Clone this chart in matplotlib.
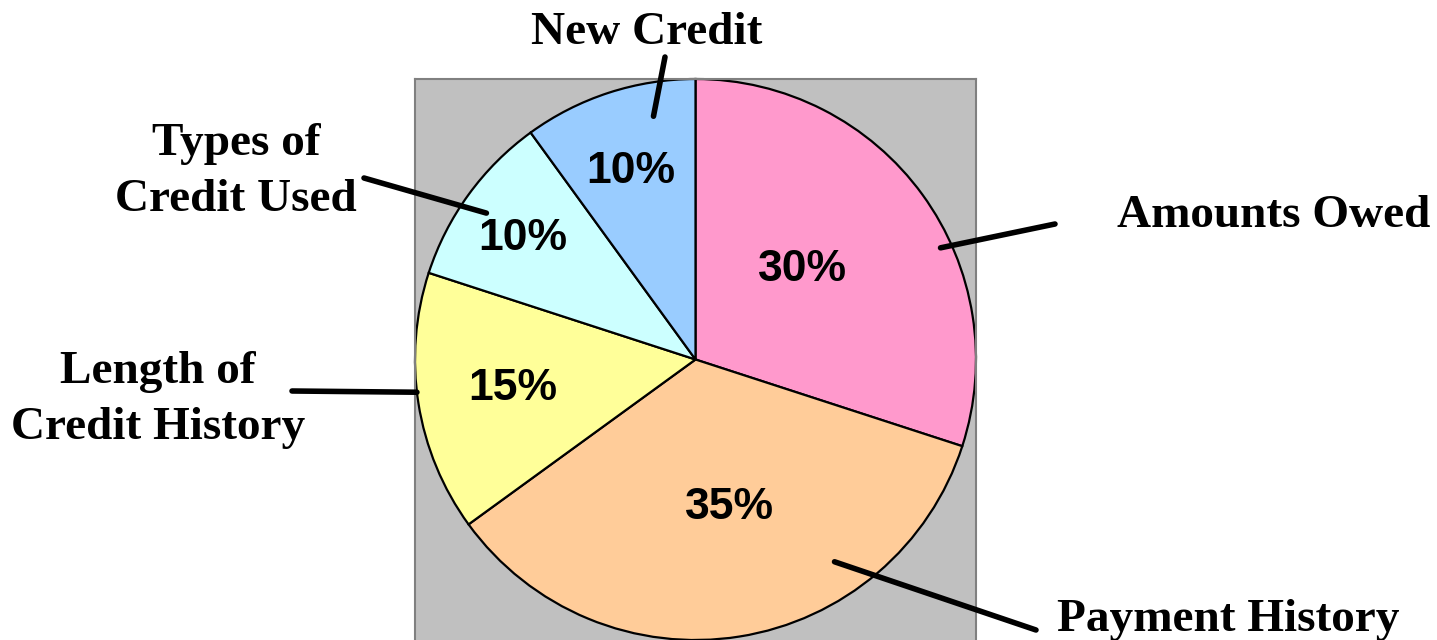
import numpy as np
import matplotlib
matplotlib.use("Agg")
import matplotlib.pyplot as plt

categories = ["Amounts Owed", "Payment History", "Length of\nCredit History",
              "Types of\nCredit Used", "New Credit"]
shares = [30, 35, 15, 10, 10]
pct_labels = ["30%", "35%", "15%", "10%", "10%"]
colors = ["#FF99CC", "#FFCC99", "#FFFF99", "#CCFFFF", "#99CCFF"]

W, H = 1437, 640
fig = plt.figure(figsize=(W / 100, H / 100), dpi=100)

# plot area (gray square) in pixel units, origin top-left
px_left, px_top, px_size = 415, 79, 561
ax = fig.add_axes([px_left / W, (H - px_top - px_size) / H, px_size / W, px_size / H])

wedges, _ = ax.pie(shares, colors=colors, startangle=90, counterclock=False,
                   radius=1.0, frame=True,
                   wedgeprops=dict(edgecolor="black", linewidth=1.6))
ax.set_facecolor("#C0C0C0")
for s in ax.spines.values():
    s.set_color("#808080")
    s.set_linewidth(1.5)
ax.spines["bottom"].set_visible(False)
ax.set_xlim(-1, 1)
ax.set_ylim(-1, 1)
ax.set_aspect("equal")
ax.set_xticks([])
ax.set_yticks([])

# percentage labels, distance from center (fraction of radius)
pct_dist = [0.50, 0.54, 0.66, 0.75, 0.71]
pct_shift = [4, 4, 0, 1, 1]  # degrees
for w, lab, d, sh in zip(wedges, pct_labels, pct_dist, pct_shift):
    ang = np.deg2rad((w.theta1 + w.theta2) / 2 + sh)
    ax.text(d * np.cos(ang), d * np.sin(ang), lab, ha="center", va="center",
            fontsize=32, fontweight="bold", family="Liberation Sans")

# category labels with leader lines
label_pos = [(1274, 216), (1228, 620), (158, 400), (236, 172), (647, 33)]
line_start = [(1055, 224), (1036, 630), (292, 391), (364, 178), (665, 57)]
line_end_polar = [(24.5, 0.96), (-55.5, 0.875), (186.7, 1.0), (145, 0.91), (99.8, 0.88)]

for cat, (tx, ty), (lx, ly), (a, r) in zip(categories, label_pos, line_start, line_end_polar):
    fig.text(tx / W, 1 - ty / H, cat, ha="center", va="center", fontsize=34,
             fontweight="bold", family="Liberation Serif", linespacing=1.42)
    ang = np.deg2rad(a)
    ax.annotate("", xy=(r * np.cos(ang), r * np.sin(ang)), xycoords="data",
                xytext=(lx / W, 1 - ly / H), textcoords="figure fraction",
                arrowprops=dict(arrowstyle="-", lw=4, color="black",
                                shrinkA=0, shrinkB=0),
                annotation_clip=False)

fig.savefig("out.png", dpi=100)
